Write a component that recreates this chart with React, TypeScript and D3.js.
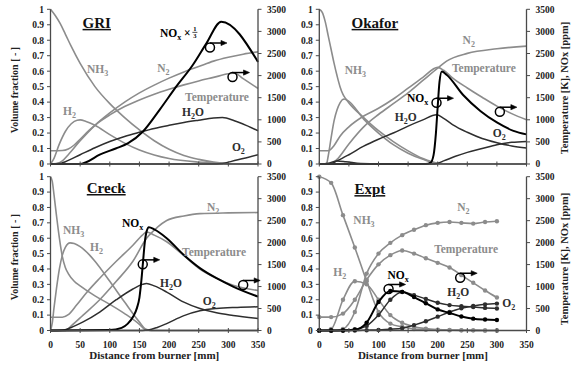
import React from "react";
import * as d3 from "d3";

type Pt = [number, number];

const FONT = "'Liberation Serif', 'Times New Roman', serif";
const GRAY = "#8c8c8c";
const DARK = "#2e2e2e";
const BLACK = "#000";

const xTicks = [0, 50, 100, 150, 200, 250, 300, 350];
const fracTicks = [0, 0.1, 0.2, 0.3, 0.4, 0.5, 0.6, 0.7, 0.8, 0.9, 1];
const fracLabels = ["0", "0.1", "0.2", "0.3", "0.4", "0.5", "0.6", "0.7", "0.8", "0.9", "1"];
const rightTicks = [0, 500, 1000, 1500, 2000, 2500, 3000, 3500];

// GRI (mole fractions on the left axis, T [K] and NOx/3 [ppm] on the right)
const griNH3: Pt[] = [[0, 1], [8, 0.96], [16, 0.91], [25, 0.84], [35, 0.76], [50, 0.65], [75, 0.5], [100, 0.39], [125, 0.3], [150, 0.22], [175, 0.15], [200, 0.095], [225, 0.055], [250, 0.03], [275, 0.012], [300, 0.003], [350, 0]];
const griH2: Pt[] = [[0, 0], [5, 0.03], [15, 0.13], [25, 0.21], [35, 0.26], [45, 0.283], [50, 0.285], [60, 0.275], [75, 0.25], [100, 0.19], [125, 0.135], [150, 0.09], [175, 0.058], [200, 0.035], [250, 0.012], [300, 0.002], [350, 0]];
const griN2: Pt[] = [[0, 0], [10, 0.003], [20, 0.02], [30, 0.06], [50, 0.15], [75, 0.25], [100, 0.33], [125, 0.4], [150, 0.46], [175, 0.51], [200, 0.555], [225, 0.595], [250, 0.63], [275, 0.665], [300, 0.69], [325, 0.71], [350, 0.725]];
const griH2O: Pt[] = [[0, 0], [15, 0.003], [25, 0.015], [50, 0.06], [75, 0.105], [100, 0.145], [125, 0.178], [150, 0.205], [175, 0.23], [200, 0.25], [225, 0.268], [250, 0.283], [275, 0.297], [290, 0.3], [310, 0.28], [330, 0.25], [350, 0.215]];
const griO2: Pt[] = [[0, 0], [280, 0], [290, 0.003], [300, 0.012], [325, 0.035], [350, 0.06]];
const griT: Pt[] = [[0, 300], [20, 305], [30, 340], [40, 430], [50, 560], [65, 760], [80, 930], [100, 1110], [125, 1300], [150, 1450], [175, 1580], [200, 1690], [225, 1790], [250, 1880], [275, 1960], [300, 2040], [310, 2060], [325, 1930], [350, 1710]];
const griNOx: Pt[] = [[0, 0], [50, 0], [60, 40], [83, 210], [110, 350], [131, 470], [156, 735], [184, 1225], [212, 1750], [240, 2240], [263, 2730], [288, 3220], [350, 2310]];

// Okafor
const okNH3: Pt[] = [[0, 1], [5, 0.98], [10, 0.92], [15, 0.83], [20, 0.74], [25, 0.65], [30, 0.57], [35, 0.5], [40, 0.45], [45, 0.42], [50, 0.395], [75, 0.3], [100, 0.215], [125, 0.145], [150, 0.085], [175, 0.035], [200, 0.005], [220, 0], [350, 0]];
const okH2: Pt[] = [[0, 0], [12, 0], [15, 0.05], [20, 0.17], [25, 0.28], [30, 0.35], [35, 0.395], [42, 0.42], [50, 0.405], [75, 0.29], [100, 0.2], [125, 0.125], [150, 0.07], [175, 0.03], [200, 0.003], [220, 0], [350, 0]];
const okN2: Pt[] = [[0, 0], [20, 0], [30, 0.03], [50, 0.13], [75, 0.24], [100, 0.32], [125, 0.39], [150, 0.46], [175, 0.54], [200, 0.62], [215, 0.665], [250, 0.715], [300, 0.745], [350, 0.762]];
const okH2O: Pt[] = [[0, 0], [20, 0.003], [30, 0.02], [50, 0.06], [75, 0.115], [100, 0.16], [125, 0.2], [150, 0.245], [175, 0.285], [198, 0.318], [210, 0.295], [225, 0.255], [250, 0.205], [275, 0.165], [300, 0.138], [325, 0.117], [350, 0.103]];
const okO2: Pt[] = [[0, 0], [15, 0.005], [30, 0.02], [45, 0.015], [70, 0.003], [100, 0], [195, 0], [210, 0.02], [230, 0.05], [250, 0.075], [275, 0.1], [300, 0.125], [325, 0.14], [350, 0.146]];
const okT: Pt[] = [[0, 300], [15, 300], [25, 420], [35, 630], [50, 840], [75, 1085], [100, 1260], [125, 1470], [150, 1715], [175, 1960], [200, 2185], [210, 2120], [225, 1950], [250, 1720], [275, 1510], [300, 1310], [325, 1140], [350, 1000]];
const okNOx: Pt[] = [[0, 0], [180, 0], [188, 30], [193, 200], [197, 700], [200, 1300], [203, 1850], [207, 2090], [215, 2020], [243, 1560], [272, 1200], [300, 940], [328, 750], [350, 670]];

// Creck
const crNH3: Pt[] = [[0, 1], [3, 0.97], [6, 0.88], [10, 0.75], [15, 0.6], [20, 0.48], [25, 0.41], [30, 0.37], [40, 0.32], [50, 0.29], [75, 0.225], [100, 0.17], [125, 0.11], [150, 0.04], [160, 0.005], [170, 0], [350, 0]];
const crH2: Pt[] = [[0, 0], [3, 0.05], [6, 0.15], [10, 0.27], [15, 0.4], [20, 0.49], [25, 0.54], [33, 0.57], [40, 0.565], [50, 0.545], [66, 0.49], [75, 0.45], [100, 0.32], [125, 0.185], [150, 0.055], [160, 0.01], [170, 0], [350, 0]];
const crN2: Pt[] = [[0, 0], [25, 0], [35, 0.03], [55, 0.1], [83, 0.2], [111, 0.32], [139, 0.45], [162, 0.6], [180, 0.67], [196, 0.715], [225, 0.745], [252, 0.76], [300, 0.765], [350, 0.767]];
const crH2O: Pt[] = [[0, 0], [20, 0.002], [35, 0.02], [55, 0.056], [83, 0.12], [111, 0.2], [139, 0.27], [155, 0.3], [162, 0.306], [175, 0.29], [196, 0.25], [224, 0.186], [252, 0.143], [280, 0.115], [308, 0.098], [350, 0.078]];
const crO2: Pt[] = [[0, 0], [155, 0], [165, 0.003], [180, 0.02], [196, 0.045], [224, 0.095], [252, 0.128], [280, 0.143], [315, 0.15], [350, 0.154]];
const crT: Pt[] = [[0, 300], [20, 300], [30, 360], [44, 580], [60, 850], [83, 1190], [111, 1575], [139, 1940], [155, 2170], [162, 2240], [175, 2170], [196, 2020], [224, 1715], [252, 1400], [280, 1190], [308, 1030], [350, 910]];
const crNOx: Pt[] = [[0, 0], [100, 10], [120, 60], [130, 150], [140, 330], [146, 520], [150, 750], [153, 1100], [156, 1550], [159, 2000], [162, 2250], [166, 2350], [175, 2300], [196, 2100], [224, 1730], [252, 1420], [280, 1190], [308, 1000], [350, 770]];

// Expt (measured every 20 mm)
const exX = [0, 20, 40, 60, 80, 100, 120, 140, 160, 180, 200, 220, 240, 260, 280, 300];
const exNH3 = [1.0, 0.96, 0.75, 0.54, 0.32, 0.12, 0.045, 0.024, 0.01, 0.005, 0.003, 0.002, 0.001, 0.001, 0, 0];
const exH2 = [0, 0.01, 0.2, 0.32, 0.3, 0.2, 0.1, 0.05, 0.025, 0.012, 0.006, 0.003, 0.002, 0.001, 0, 0];
const exN2 = [0, 0, 0.01, 0.12, 0.37, 0.5, 0.57, 0.62, 0.655, 0.685, 0.7, 0.705, 0.7, 0.695, 0.705, 0.71];
const exH2O = [0, 0, 0.002, 0.008, 0.03, 0.1, 0.2, 0.25, 0.23, 0.205, 0.18, 0.165, 0.158, 0.152, 0.147, 0.143];
const exO2 = [0, 0, 0, 0, 0.002, 0.004, 0.008, 0.015, 0.035, 0.06, 0.09, 0.12, 0.145, 0.16, 0.17, 0.175];
const exT = [305, 305, 385, 700, 1155, 1505, 1715, 1820, 1750, 1645, 1540, 1435, 1260, 1085, 910, 750];
const exNOx = [0, 0, 0, 15, 180, 650, 900, 880, 760, 620, 480, 400, 320, 270, 250, 240];

const zipX = (ys: number[]): Pt[] => exX.map((x, i) => [x, ys[i]]);

interface Series { data: Pt[]; axis: "L" | "R"; color: string; width: number; dots?: boolean }
interface Label { t: string; x: number; y: number; c: string; frac?: boolean }
interface PanelDef {
  title: string;
  titleX: number;
  titleY: number;
  box: [number, number, number, number]; // left, right, top, bottom
  series: Series[];
  labels: Label[];
  markers: Pt[];
  xLabels: boolean;
}

const gray = (data: Pt[], dots = false): Series => ({ data, axis: "L", color: GRAY, width: 1.6, dots });
const dark = (data: Pt[], dots = false): Series => ({ data, axis: "L", color: DARK, width: 1.5, dots });
const tempS = (data: Pt[], dots = false): Series => ({ data, axis: "R", color: GRAY, width: 1.6, dots });
const noxS = (data: Pt[], dots = false): Series => ({ data, axis: "R", color: BLACK, width: 2, dots });

const panels: PanelDef[] = [
  {
    title: "GRI", titleX: 78, titleY: 0.88, box: [50.5, 258, 9.3, 164], xLabels: false,
    series: [gray(griNH3), gray(griH2), gray(griN2), tempS(griT), dark(griH2O), dark(griO2), noxS(griNOx)],
    labels: [
      { t: "NH_3", x: 61.6, y: 0.588, c: GRAY },
      { t: "N_2", x: 180, y: 0.595, c: GRAY },
      { t: "H_2", x: 21, y: 0.317, c: GRAY },
      { t: "Temperature", x: 227, y: 0.407, c: GRAY },
      { t: "H_2O", x: 222, y: 0.31, c: DARK },
      { t: "O_2", x: 306, y: 0.084, c: DARK },
      { t: "NO_x ×", x: 184.5, y: 0.82, c: BLACK, frac: true },
    ],
    markers: [[269, 0.753], [307, 0.562]],
  },
  {
    title: "Okafor", titleX: 94, titleY: 0.88, box: [319.3, 526.5, 9.3, 164], xLabels: false,
    series: [gray(okNH3), gray(okH2), gray(okN2), tempS(okT), dark(okH2O), dark(okO2), noxS(okNOx)],
    labels: [
      { t: "N_2", x: 242, y: 0.776, c: GRAY },
      { t: "NH_3", x: 43, y: 0.582, c: GRAY },
      { t: "Temperature", x: 224, y: 0.595, c: GRAY },
      { t: "NO_x", x: 148, y: 0.4, c: BLACK },
      { t: "H_2O", x: 127.6, y: 0.278, c: DARK },
      { t: "O_2", x: 293, y: 0.175, c: DARK },
    ],
    markers: [[198, 0.396], [305, 0.338]],
  },
  {
    title: "Creck", titleX: 94, titleY: 0.894, box: [50.5, 258, 176.7, 330.5], xLabels: true,
    series: [gray(crNH3), gray(crH2), gray(crN2), tempS(crT), dark(crH2O), dark(crO2), noxS(crNOx)],
    labels: [
      { t: "NH_3", x: 21, y: 0.627, c: GRAY },
      { t: "H_2", x: 66.7, y: 0.517, c: GRAY },
      { t: "N_2", x: 264, y: 0.777, c: GRAY },
      { t: "NO_x", x: 120.7, y: 0.673, c: BLACK },
      { t: "Temperature", x: 222, y: 0.484, c: GRAY },
      { t: "H_2O", x: 184.8, y: 0.283, c: DARK },
      { t: "O_2", x: 257, y: 0.166, c: DARK },
    ],
    markers: [[155.6, 0.43], [325, 0.296]],
  },
  {
    title: "Expt", titleX: 85.4, titleY: 0.887, box: [319.3, 526.5, 176.7, 330.5], xLabels: true,
    series: [gray(zipX(exNH3), true), gray(zipX(exH2), true), gray(zipX(exN2), true), tempS(zipX(exT), true), dark(zipX(exH2O), true), dark(zipX(exO2), true), noxS(zipX(exNOx), true)],
    labels: [
      { t: "N_2", x: 233, y: 0.777, c: GRAY },
      { t: "NH_3", x: 57.5, y: 0.692, c: GRAY },
      { t: "Temperature", x: 194, y: 0.502, c: GRAY },
      { t: "H_2", x: 23.7, y: 0.354, c: GRAY },
      { t: "NO_x", x: 115, y: 0.334, c: BLACK },
      { t: "H_2O", x: 216, y: 0.224, c: DARK },
      { t: "O_2", x: 309, y: 0.153, c: DARK },
    ],
    markers: [[117, 0.27], [238, 0.343]],
  },
];

// "NH_3" -> NH with subscript 3
function parts(t: string) {
  const out: { s: string; sub: boolean }[] = [];
  for (let i = 0; i < t.length; i++) {
    if (t[i] === "_") { out.push({ s: t[i + 1], sub: true }); i++; }
    else if (out.length && !out[out.length - 1].sub) out[out.length - 1].s += t[i];
    else out.push({ s: t[i], sub: false });
  }
  return out;
}

function RichText({ t, x, y, c, size }: { t: string; x: number; y: number; c: string; size: number }) {
  let shifted = false;
  return (
    <text x={x} y={y} fill={c} fontSize={size} fontWeight="bold" fontFamily={FONT}>
      {parts(t).map((p, i) => {
        const dy = p.sub && !shifted ? 3 : !p.sub && shifted ? -3 : 0;
        shifted = p.sub;
        return (
          <tspan key={i} dy={dy || undefined} fontSize={p.sub ? size * 0.7 : size}>{p.s}</tspan>
        );
      })}
    </text>
  );
}

function Marker({ cx, cy }: { cx: number; cy: number }) {
  const r = 4.5;
  return (
    <g stroke={BLACK} strokeWidth={1.5} fill="none">
      <circle cx={cx} cy={cy} r={r} />
      <line x1={cx} y1={cy - r} x2={cx + 12} y2={cy - r} />
      <path d={`M${cx + 11},${cy - r - 2.6}L${cx + 17},${cy - r}L${cx + 11},${cy - r + 2.6}Z`} fill={BLACK} strokeWidth={0.6} />
    </g>
  );
}

function Panel({ def }: { def: PanelDef }) {
  const [l, r, t, b] = def.box;
  const x = d3.scaleLinear().domain([0, 350]).range([l, r]);
  const yL = d3.scaleLinear().domain([0, 1]).range([b, t]);
  const yR = d3.scaleLinear().domain([0, 3500]).range([b, t]);
  const axisColor = "#4a4a4a";

  return (
    <g>
      {def.series.map((s, i) => {
        const y = s.axis === "L" ? yL : yR;
        const line = d3.line<Pt>().x((d) => x(d[0])).y((d) => y(d[1])).curve(d3.curveMonotoneX);
        return (
          <g key={i}>
            <path d={line(s.data) || ""} fill="none" stroke={s.color} strokeWidth={s.width} strokeLinejoin="round" />
            {s.dots && s.data.map((d, j) => (
              <circle key={j} cx={x(d[0])} cy={y(d[1])} r={2.2} fill={s.color} />
            ))}
          </g>
        );
      })}

      {/* axes */}
      <line x1={l} y1={t} x2={l} y2={b} stroke={axisColor} strokeWidth={1.3} />
      <line x1={r} y1={t} x2={r} y2={b} stroke={axisColor} strokeWidth={1.3} />
      <line x1={l} y1={b} x2={r} y2={b} stroke={axisColor} strokeWidth={1.5} />
      {fracTicks.map((v, i) => (
        <g key={"l" + i}>
          <line x1={l - 3.5} x2={l} y1={yL(v)} y2={yL(v)} stroke={axisColor} strokeWidth={1} />
          <text x={l - 6.5} y={yL(v)} dy="0.35em" textAnchor="end" fontSize={9.5} fontWeight="bold" fontFamily={FONT} fill="#222">{fracLabels[i]}</text>
        </g>
      ))}
      {rightTicks.map((v) => (
        <g key={"r" + v}>
          <line x1={r} x2={r + 3.5} y1={yR(v)} y2={yR(v)} stroke={axisColor} strokeWidth={1} />
          <text x={r + 9} y={yR(v)} dy="0.35em" textAnchor="start" fontSize={9.5} fontWeight="bold" fontFamily={FONT} fill="#222">{v}</text>
        </g>
      ))}
      {xTicks.map((v) => (
        <g key={"x" + v}>
          <line x1={x(v)} x2={x(v)} y1={b - 2.5} y2={b + 2.5} stroke={axisColor} strokeWidth={1} />
          {def.xLabels && (
            <text x={x(v)} y={347.5} textAnchor="middle" fontSize={9.5} fontWeight="bold" fontFamily={FONT} fill="#222">{v}</text>
          )}
        </g>
      ))}
      {def.xLabels && (
        <text x={(l + r) / 2} y={358.5} textAnchor="middle" fontSize={11} fontWeight="bold" fontFamily={FONT} fill="#222">Distance from burner [mm]</text>
      )}

      {/* title */}
      <text x={x(def.titleX)} y={yL(def.titleY)} textAnchor="middle" fontSize={15} fontWeight="bold" fontFamily={FONT} fill="#111" style={{ textDecoration: "underline" }}>{def.title}</text>

      {def.labels.map((lb, i) => {
        const px = x(lb.x);
        const py = yL(lb.y);
        return (
          <g key={"lb" + i}>
            <RichText t={lb.t} x={px} y={py} c={lb.c} size={11.5} />
            {lb.frac && (
              <g fontFamily={FONT} fontWeight="bold" fontSize={6.5} fill={BLACK} textAnchor="middle">
                <text x={px + 35} y={py - 6}>1</text>
                <line x1={px + 32.5} x2={px + 37.5} y1={py - 4.8} y2={py - 4.8} stroke={BLACK} strokeWidth={0.7} />
                <text x={px + 35} y={py + 1}>3</text>
              </g>
            )}
          </g>
        );
      })}

      {def.markers.map((m, i) => (
        <Marker key={"m" + i} cx={x(m[0])} cy={yL(m[1])} />
      ))}
    </g>
  );
}

export default function App() {
  return (
    <svg width={571} height={367} style={{ position: "absolute", left: 0, top: 0, background: "#fff" }}>
      {panels.map((p, i) => <Panel key={i} def={p} />)}
      <text transform="translate(18,90) rotate(-90)" textAnchor="middle" fontSize={10} fontWeight="bold" fontFamily={FONT} fill="#222">Volume fraction [ - ]</text>
      <text transform="translate(18,257) rotate(-90)" textAnchor="middle" fontSize={10} fontWeight="bold" fontFamily={FONT} fill="#222">Volume fraction [ - ]</text>
      <text transform="translate(568,88) rotate(-90)" textAnchor="middle" fontSize={10.5} fontWeight="bold" fontFamily={FONT} fill="#222">Temperature [K], NOx [ppm]</text>
      <text transform="translate(568,259) rotate(-90)" textAnchor="middle" fontSize={10.5} fontWeight="bold" fontFamily={FONT} fill="#222">Temperature [K], NOx [ppm]</text>
    </svg>
  );
}
